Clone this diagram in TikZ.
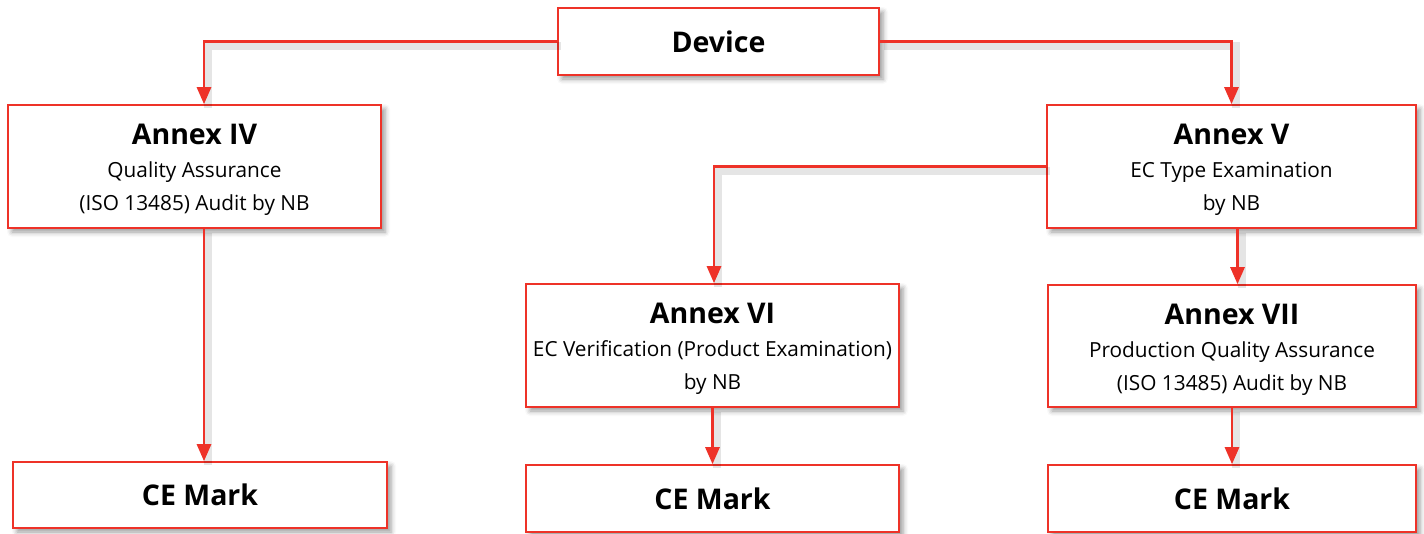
\documentclass[tikz,border=0pt]{standalone}
\usepackage{fontspec}
\setmainfont{Open Sans}
\usetikzlibrary{arrows.meta,shadows.blur}
\definecolor{cred}{RGB}{238,50,40}
\newcommand{\ttl}[1]{{\fontsize{28.5}{33}\selectfont\bfseries #1}}
\newcommand{\ttlb}[1]{{\fontsize{28.5}{33}\selectfont\bfseries\rule{0pt}{27pt}#1}}
\newcommand{\bdy}{\fontsize{20.8}{33}\selectfont}
\tikzset{
  box/.style={draw=cred, line width=1.6pt, fill=white, inner sep=0pt, align=center, font=\bdy,
    blur shadow={shadow xshift=4pt, shadow yshift=-4pt, shadow blur radius=5pt, shadow opacity=40}},
  conn/.style={draw=cred, line width=2.8pt, -{Triangle[width=14pt,length=17pt]},
    preaction={draw=black, opacity=0.10, line width=8pt, transform canvas={shift={(4pt,-4pt)}}, arrows=-}},
}
\begin{document}
\begin{tikzpicture}[x=1pt,y=-1pt]
\useasboundingbox (0,0) rectangle (1424,533);
\node[box, minimum width=321pt, minimum height=67pt] (dev) at (718.5,41.5) {\ttl{Device}};
\node[box, minimum width=373pt, minimum height=123pt] (a4) at (194.5,166.5) {\ttlb{Annex IV}\\[0pt]Quality Assurance\\(ISO 13485) Audit by NB};
\node[box, minimum width=369pt, minimum height=123pt] (a5) at (1231.5,166.5) {\ttlb{Annex V}\\[0pt]EC Type Examination\\by NB};
\node[box, minimum width=373pt, minimum height=123pt] (a6) at (712.5,345.5) {\ttlb{Annex VI}\\[0pt]EC Verification (Product Examination)\\by NB};
\node[box, minimum width=368pt, minimum height=122pt] (a7) at (1232,346) {\ttlb{Annex VII}\\[0pt]Production Quality Assurance\\(ISO 13485) Audit by NB};
\node[box, minimum width=374pt, minimum height=66pt] (ce1) at (200,495) {\ttl{CE Mark}};
\node[box, minimum width=373pt, minimum height=67pt] (ce2) at (712.5,498.5) {\ttl{CE Mark}};
\node[box, minimum width=368pt, minimum height=67pt] (ce3) at (1232,498.5) {\ttl{CE Mark}};
\draw[conn] (dev.west) -| ([xshift=9.5pt]a4.north);
\draw[conn] (dev.east) -| (a5.north);
\draw[conn] ([xshift=9.5pt]a4.south) -- ([xshift=9.5pt]a4.south |- ce1.north);
\draw[conn] (a5.west) -| ([xshift=1.5pt]a6.north);
\draw[conn] ([xshift=6pt]a5.south) -- ([xshift=6pt]a5.south |- a7.north);
\draw[conn] (a6.south) -- (ce2.north);
\draw[conn] (a7.south) -- (ce3.north);
\end{tikzpicture}
\end{document}
